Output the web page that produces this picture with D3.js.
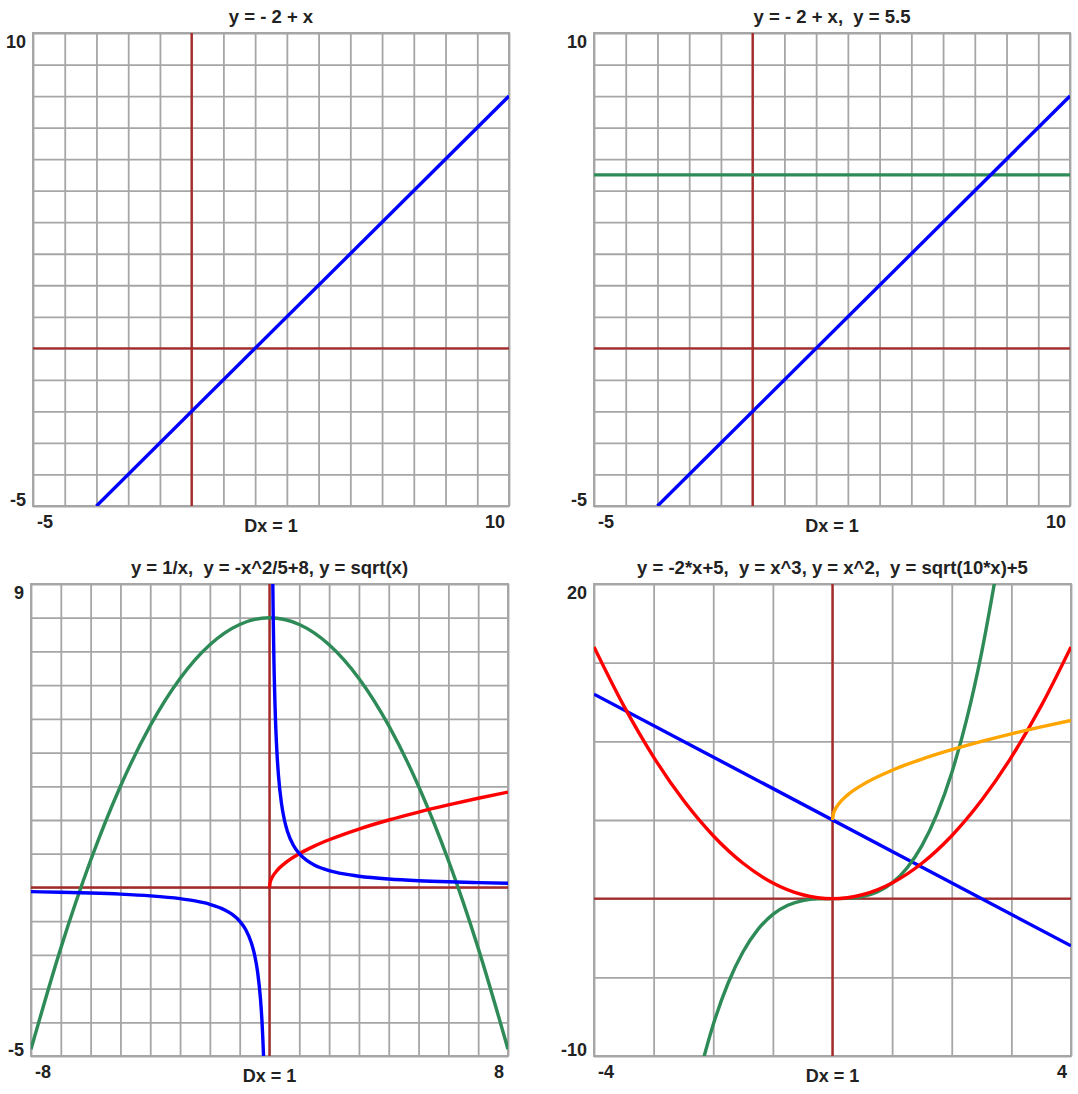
<!DOCTYPE html>
<html>
<head>
<meta charset="utf-8">
<script src="https://cdn.jsdelivr.net/npm/d3@7"></script>
<style>
  body { margin: 0; background: #fff; }
  text { font-family: "Liberation Sans", Arial, sans-serif; font-weight: bold; fill: #222; white-space: pre; }
</style>
</head>
<body>
<div id="graphs"></div>
<script>
// Panel settings (titles, ranges, labels)
var titles = ["y = - 2 + x", "y = - 2 + x,  y = 5.5", "y = 1/x,  y = -x^2/5+8, y = sqrt(x)", "y = -2*x+5,  y = x^3, y = x^2,  y = sqrt(10*x)+5"];
var xDomains = [[-5, 10], [-5, 10], [-8, 8], [-4, 4]];
var yDomains = [[-5, 10], [-5, 10], [-5, 9], [-10, 20]];
var xStep = [1, 1, 1, 1];
var yStep = [1, 1, 1, 5];
var stepLabel = "Dx = 1";

// Curves, [x, y] points
var line1 = [[-3, -5], [10, 8]];
var flat55 = [[-5, 5.5], [10, 5.5]];

var invLeft = [[-8, -0.125], [-7, -0.143], [-6, -0.167], [-5, -0.2], [-4, -0.25], [-3, -0.333], [-2.5, -0.4], [-2, -0.5],
  [-1.5, -0.667], [-1.25, -0.8], [-1, -1], [-0.8, -1.25], [-0.6, -1.667], [-0.5, -2], [-0.4, -2.5], [-0.3, -3.333],
  [-0.25, -4], [-0.2, -5], [-0.18, -5.556]];
var invRight = [[0.1, 10], [0.111, 9], [0.125, 8], [0.15, 6.667], [0.2, 5], [0.25, 4], [0.3, 3.333], [0.4, 2.5], [0.5, 2],
  [0.6, 1.667], [0.8, 1.25], [1, 1], [1.25, 0.8], [1.5, 0.667], [2, 0.5], [2.5, 0.4], [3, 0.333], [4, 0.25],
  [5, 0.2], [6, 0.167], [7, 0.143], [8, 0.125]];
var parab = [[-8, -4.8], [-7, -1.8], [-6, 0.8], [-5, 3], [-4, 4.8], [-3, 6.2], [-2, 7.2], [-1, 7.8], [0, 8],
  [1, 7.8], [2, 7.2], [3, 6.2], [4, 4.8], [5, 3], [6, 0.8], [7, -1.8], [8, -4.8]];
var sqrtX = [[0, 0], [0.02, 0.141], [0.05, 0.224], [0.1, 0.316], [0.25, 0.5], [0.5, 0.707], [1, 1], [1.5, 1.225], [2, 1.414],
  [3, 1.732], [4, 2], [5, 2.236], [6, 2.449], [7, 2.646], [8, 2.828]];

var lineB = [[-4, 13], [4, -3]];
var cube = [[-2.25, -11.391], [-2, -8], [-1.75, -5.359], [-1.5, -3.375], [-1.25, -1.953], [-1, -1], [-0.75, -0.422],
  [-0.5, -0.125], [-0.25, -0.016], [0, 0], [0.25, 0.016], [0.5, 0.125], [0.75, 0.422], [1, 1], [1.25, 1.953],
  [1.5, 3.375], [1.75, 5.359], [2, 8], [2.25, 11.391], [2.5, 15.625], [2.75, 20.797]];
var square = [[-4, 16], [-3.5, 12.25], [-3, 9], [-2.5, 6.25], [-2, 4], [-1.5, 2.25], [-1, 1], [-0.5, 0.25], [0, 0],
  [0.5, 0.25], [1, 1], [1.5, 2.25], [2, 4], [2.5, 6.25], [3, 9], [3.5, 12.25], [4, 16]];
var sqrt10 = [[0, 5], [0.02, 5.447], [0.05, 5.707], [0.1, 6], [0.25, 6.581], [0.5, 7.236], [1, 8.162], [1.5, 8.873],
  [2, 9.472], [2.5, 10], [3, 10.477], [3.5, 10.916], [4, 11.325]];

var curves = [
  [{pts: line1, color: "#0000ff"}],
  [{pts: flat55, color: "#2e8b57"}, {pts: line1, color: "#0000ff"}],
  [{pts: parab, color: "#2e8b57"}, {pts: sqrtX, color: "#ff0000"}, {pts: invLeft, color: "#0000ff"}, {pts: invRight, color: "#0000ff"}],
  [{pts: lineB, color: "#0000ff"}, {pts: cube, color: "#2e8b57"}, {pts: square, color: "#ff0000"}, {pts: sqrt10, color: "#ffa500"}]
];

// where each panel sits
var boxes = [
  {left: 33, top: 33, w: 476, h: 473},
  {left: 594, top: 33, w: 476, h: 473},
  {left: 31, top: 584, w: 477, h: 472},
  {left: 594, top: 584, w: 477, h: 472}
];

var svg = d3.select("#graphs")
  .append("svg")
  .attr("width", 1078)
  .attr("height", 1094);

var gridColor = "#a6a6a6";
var axisColor = "#a52a2a";

boxes.forEach(function (b, i) {
  var x = d3.scaleLinear().domain(xDomains[i]).range([b.left, b.left + b.w]);
  var y = d3.scaleLinear().domain(yDomains[i]).range([b.top + b.h, b.top]);

  var g = svg.append("g");

  // grid from axes with long ticks
  var xt = d3.range(xDomains[i][0], xDomains[i][1] + 0.001, xStep[i]);
  var yt = d3.range(yDomains[i][0], yDomains[i][1] + 0.001, yStep[i]);

  var gx = g.append("g")
    .attr("transform", "translate(0," + (b.top + b.h) + ")")
    .call(d3.axisBottom(x).tickValues(xt).tickSize(-b.h).tickFormat(""));
  var gy = g.append("g")
    .attr("transform", "translate(" + b.left + ",0)")
    .call(d3.axisLeft(y).tickValues(yt).tickSize(-b.w).tickFormat(""));
  [gx, gy].forEach(function (a) {
    a.select(".domain").remove();
    a.selectAll("line").attr("stroke", gridColor).attr("stroke-width", 1.8);
  });

  g.append("rect")
    .attr("x", b.left).attr("y", b.top)
    .attr("width", b.w).attr("height", b.h)
    .attr("fill", "none")
    .attr("stroke", gridColor)
    .attr("stroke-width", 2);

  // the red x and y axes
  g.append("line")
    .attr("x1", x(0)).attr("x2", x(0))
    .attr("y1", b.top).attr("y2", b.top + b.h)
    .attr("stroke", axisColor).attr("stroke-width", 2.4);
  g.append("line")
    .attr("x1", b.left).attr("x2", b.left + b.w)
    .attr("y1", y(0)).attr("y2", y(0))
    .attr("stroke", axisColor).attr("stroke-width", 2.4);

  // curves, clipped to the box
  svg.append("clipPath").attr("id", "clip" + i)
    .append("rect")
    .attr("x", b.left).attr("y", b.top)
    .attr("width", b.w).attr("height", b.h);

  var line = d3.line()
    .x(function (d) { return x(d[0]); })
    .y(function (d) { return y(d[1]); })
    .curve(d3.curveMonotoneX);

  g.append("g")
    .attr("clip-path", "url(#clip" + i + ")")
    .selectAll("path")
    .data(curves[i])
    .enter()
    .append("path")
    .attr("d", function (c) { return line(c.pts); })
    .attr("fill", "none")
    .attr("stroke", function (c) { return c.color; })
    .attr("stroke-width", 3.4);

  // texts
  g.append("text")
    .attr("x", b.left + b.w / 2).attr("y", b.top - 10)
    .attr("text-anchor", "middle")
    .attr("font-size", 18.5)
    .text(titles[i]);

  g.append("text")
    .attr("x", b.left - 7).attr("y", b.top + 15)
    .attr("text-anchor", "end").attr("font-size", 18)
    .text(yDomains[i][1]);
  g.append("text")
    .attr("x", b.left - 7).attr("y", b.top + b.h)
    .attr("text-anchor", "end").attr("font-size", 18)
    .text(yDomains[i][0]);

  g.append("text")
    .attr("x", b.left + 4).attr("y", b.top + b.h + 22)
    .attr("text-anchor", "start").attr("font-size", 18)
    .text(xDomains[i][0]);
  g.append("text")
    .attr("x", b.left + b.w - 4).attr("y", b.top + b.h + 22)
    .attr("text-anchor", "end").attr("font-size", 18)
    .text(xDomains[i][1]);

  g.append("text")
    .attr("x", b.left + b.w / 2).attr("y", b.top + b.h + 26)
    .attr("text-anchor", "middle").attr("font-size", 18)
    .text(stepLabel);
});
</script>
</body>
</html>
